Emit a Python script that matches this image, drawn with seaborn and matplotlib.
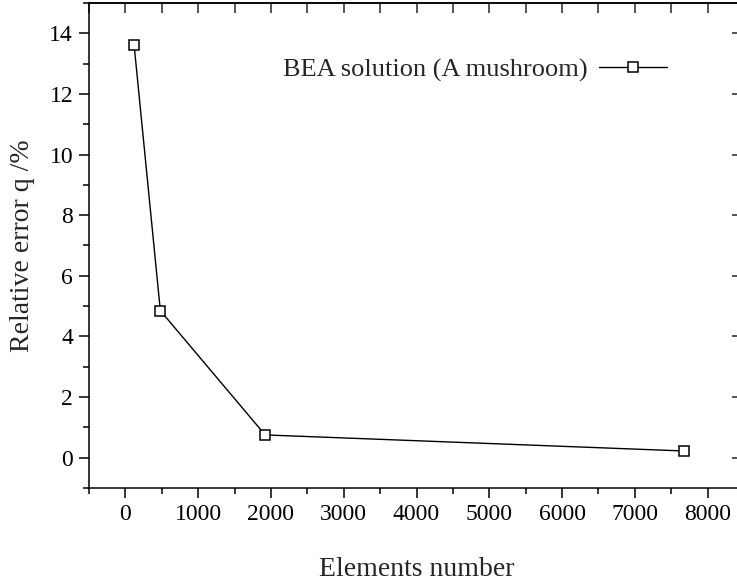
import pandas as pd
import seaborn as sns
import matplotlib.pyplot as plt
from matplotlib.ticker import MultipleLocator

# values
elements = [120, 480, 1920, 7680]
rel_error = [13.6, 4.85, 0.75, 0.22]
series_label = 'BEA solution (A mushroom)'

data = pd.DataFrame({'Elements number': elements, 'Relative error q /%': rel_error})

sns.set_theme(style='ticks')
plt.rcParams['font.family'] = ['Liberation Serif', 'DejaVu Serif']

fig = plt.figure(figsize=(7.37, 5.83), dpi=100)
ax = fig.add_axes([0.1208, 0.163, 1.0095 - 0.1208, 0.9949 - 0.163])

sns.lineplot(x='Elements number', y='Relative error q /%', data=data, ax=ax,
             color='black', linewidth=1.0, marker='s', markersize=7.5,
             markerfacecolor='white', markeredgecolor='black', markeredgewidth=1.1,
             label=series_label)

ax.set_xlim(-500, 8500)
ax.set_ylim(-1, 15)
ax.xaxis.set_major_locator(MultipleLocator(1000))
ax.xaxis.set_minor_locator(MultipleLocator(500))
ax.yaxis.set_major_locator(MultipleLocator(2))
ax.yaxis.set_minor_locator(MultipleLocator(1))

for s in ax.spines.values():
    s.set_linewidth(1.1)
    s.set_color('black')

ax.tick_params(which='major', direction='out', length=7.5, width=1.1, labelsize=17, pad=4, colors='black')
ax.tick_params(which='minor', direction='out', length=4, width=1.1, colors='black')

# inward ticks on top and right edges
top = ax.secondary_xaxis('top')
top.xaxis.set_major_locator(MultipleLocator(500))
top.tick_params(direction='in', length=7, width=1.1, labeltop=False)
right = ax.secondary_yaxis('right')
right.yaxis.set_major_locator(MultipleLocator(2))
right.tick_params(which='major', direction='in', length=9, width=1.1, labelright=False)
right.tick_params(which='minor', length=0)

ax.set_xlabel('Elements number', fontsize=20, labelpad=23)
ax.set_ylabel('Relative error q /%', fontsize=20, labelpad=10)

ax.legend(loc='center', bbox_to_anchor=(0.645, 0.88), bbox_transform=fig.transFigure,
          frameon=False, markerfirst=False, fontsize=19, handlelength=2.6,
          handletextpad=0.4)

fig.savefig('out.png', dpi=100)
